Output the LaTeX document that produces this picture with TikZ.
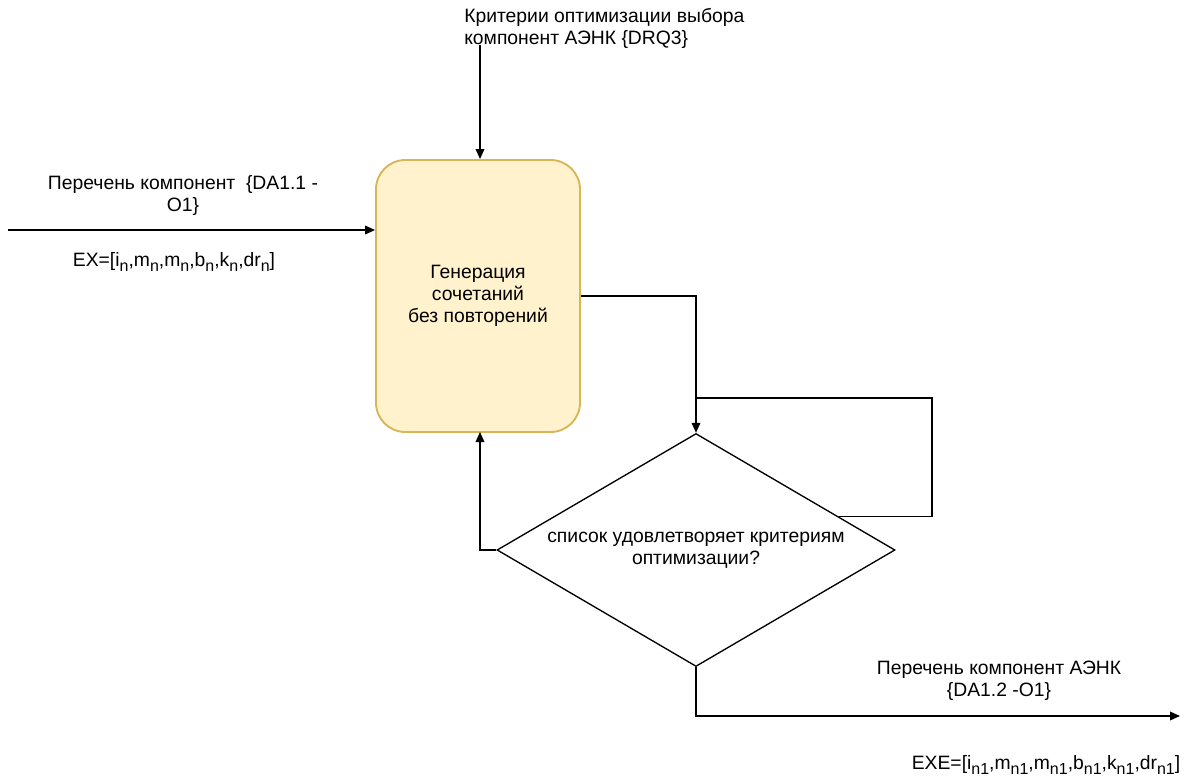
\documentclass[tikz,border=0pt]{standalone}
\usepackage{fontspec}
\setmainfont{Liberation Sans}
\usetikzlibrary{shapes.geometric,arrows.meta,calc}
\definecolor{boxfill}{HTML}{FFF2CC}
\definecolor{boxline}{HTML}{D6B656}
\newcommand{\sbs}[1]{\raisebox{-0.45ex}{\fontsize{12}{12}\selectfont #1}}

\begin{document}
\begin{tikzpicture}[x=0.75pt,y=-0.75pt,
  font=\fontsize{14.5}{16.5}\selectfont,
  arr/.style={-{Triangle[length=7.5pt,width=6.5pt]},line width=1pt},
  lin/.style={line width=1pt},
  txt/.style={align=center,inner sep=0pt}]
\useasboundingbox (0,0) rectangle (1195,780);
% blocks
\node[draw=boxline,fill=boxfill,line width=1.4pt,rounded corners=22pt,
  minimum width=153pt,minimum height=204pt,txt] (gen) at (478,296)
  {Генерация\\сочетаний\\ без повторений};
\node[draw,diamond,lin,aspect=1.71,minimum width=298.5pt,minimum height=174.75pt,
  inner sep=0pt,align=center] (chk) at (696,550)
  {список удовлетворяет критериям\\оптимизации?};
% labels
\node[anchor=north west,align=left,inner sep=0pt] (crit) at (464,8)
  {Критерии оптимизации выбора\\компонент АЭНК {\{}DRQ3{\}}};
\node[txt] (inlbl) at (183,196) {Перечень компонент\ \ {\{}DA1.1 -\\O1{\}}};
\node[txt] (ex) at (174,262)
  {EX=[i\sbs{n},m\sbs{n},m\sbs{n},b\sbs{n},k\sbs{n},dr\sbs{n}]};
\node[txt] (outlbl) at (999,681) {Перечень компонент АЭНК\\{\{}DA1.2 -O1{\}}};
\node[txt] (exe) at (1046,765)
  {EXE=[i\sbs{n1},m\sbs{n1},m\sbs{n1},b\sbs{n1},k\sbs{n1},dr\sbs{n1}]};
% free ends
\coordinate (top) at (480,45);
\coordinate (in) at (8,230);
\coordinate (out) at (1180,716);
\coordinate (lp) at ($(chk.north)!0.715!(chk.east)$);
% connectors
\draw[arr] (top) -- (top |- gen.north);
\draw[arr] (in) -- (in -| gen.west);
\draw[arr] (gen.east) -| (chk.north);
\draw[lin] (lp) -- (lp -| 932,0) |- (696,398);
\draw[arr] (chk.west) -| (480,432);
\draw[arr] (chk.south) |- (out);
%\draw[lin] (chk.east) -- (932,548);
\end{tikzpicture}
\end{document}
